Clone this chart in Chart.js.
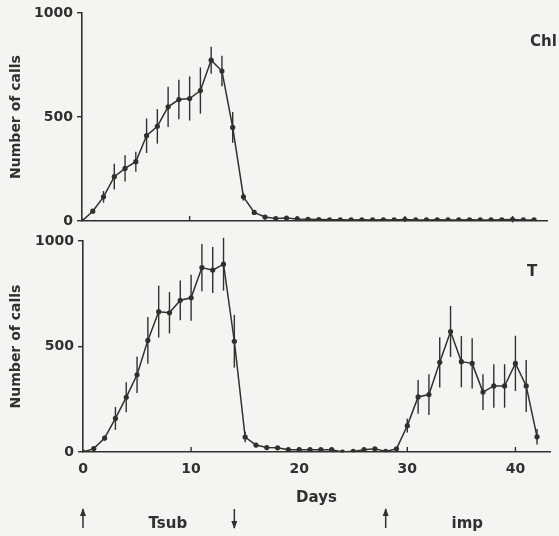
<!DOCTYPE html>
<html>
<head>
<meta charset="utf-8">
<script src="https://cdn.jsdelivr.net/npm/chart.js@4.4.1/dist/chart.umd.min.js"></script>
<style>
  html, body { margin: 0; padding: 0; background: #f4f4f1; }
  #wrap { position: relative; width: 559px; height: 536px; overflow: hidden; }
  canvas { position: absolute; left: 0; }
</style>
</head>
<body>
<div id="wrap">
  <canvas id="chl" width="559" height="236" style="top:0"></canvas>
  <canvas id="tsub" width="559" height="308" style="top:228px"></canvas>
</div>
<script>
// days of the experiment
const days = [0, 1, 2, 3, 4, 5, 6, 7, 8, 9, 10, 11, 12, 13, 14, 15, 16, 17, 18, 19, 20,
              21, 22, 23, 24, 25, 26, 27, 28, 29, 30, 31, 32, 33, 34, 35, 36, 37, 38, 39, 40, 41, 42];

// upper panel (Chl): mean number of calls and error bar half-lengths
const chlCalls = [0, 47, 116, 213, 253, 285, 410, 455, 549, 584, 589, 627, 773, 721, 450, 116, 41, 19, 12, 14, 10,
                  8, 7, 6, 6, 5, 6, 5, 6, 5, 7, 5, 5, 6, 5, 5, 6, 5, 5, 6, 7, 5, 5];
const chlErr = [0, 10, 28, 62, 63, 48, 83, 83, 97, 95, 106, 111, 65, 73, 74, 18, 10, 10, 8, 10, 6,
                0, 0, 0, 0, 0, 0, 0, 0, 0, 12, 0, 0, 0, 0, 0, 0, 0, 0, 0, 14, 0, 0];

// lower panel (T): mean number of calls and error bar half-lengths
const tCalls = [0, 16, 66, 159, 259, 366, 529, 665, 660, 719, 731, 874, 862, 890, 525, 71, 33, 21, 20, 11, 11,
                11, 11, 11, 0, 3, 11, 15, 3, 15, 125, 261, 272, 425, 571, 428, 420, 284, 313, 313, 420, 313, 72];
const tErr = [0, 6, 12, 54, 71, 86, 111, 123, 98, 94, 109, 112, 109, 125, 125, 25, 10, 8, 8, 6, 6,
              6, 6, 6, 5, 5, 6, 6, 5, 6, 33, 80, 97, 119, 121, 121, 119, 85, 103, 103, 131, 123, 37];

const xTicks = [0, 10, 20, 30, 40];
const yTicks = [0, 500, 1000];

// treatment markers under the x axis
const arrowDays = [0, 14, 28];
const arrowDirs = ['up', 'down', 'up'];
const phaseNames = ['Tsub', 'imp'];
const phaseDays = [7.85, 35.55];

const ink = '#303030';
const font = 'DejaVu Sans';

const errorBars = {
  id: 'errorBars',
  afterDatasetsDraw(chart, args, opts) {
    const { ctx, scales: { x, y } } = chart;
    const vals = opts.values;
    ctx.save();
    ctx.strokeStyle = ink;
    ctx.lineWidth = 1.4;
    opts.err.forEach((e, i) => {
      if (!e) return;
      const px = x.getPixelForValue(days[i]);
      ctx.beginPath();
      ctx.moveTo(px, y.getPixelForValue(vals[i] - e));
      ctx.lineTo(px, y.getPixelForValue(vals[i] + e));
      ctx.stroke();
    });
    // x axis ticks point up into the plot
    xTicks.forEach(v => {
      if (v === 0) return;
      const px = x.getPixelForValue(v);
      ctx.beginPath();
      ctx.moveTo(px, y.bottom);
      ctx.lineTo(px, y.bottom - 5);
      ctx.stroke();
    });
    // panel label
    ctx.fillStyle = ink;
    ctx.font = 'bold 15px ' + font;
    ctx.textBaseline = 'middle';
    ctx.textAlign = opts.align;
    ctx.fillText(opts.label, opts.lx, opts.ly);
    ctx.restore();
  }
};

const markers = {
  id: 'markers',
  afterDraw(chart) {
    const { ctx, scales: { x } } = chart;
    ctx.save();
    ctx.strokeStyle = ink;
    ctx.fillStyle = ink;
    ctx.lineWidth = 1.5;
    const top = 281, bot = 300;
    arrowDays.forEach((d, i) => {
      const px = x.getPixelForValue(d);
      ctx.beginPath();
      ctx.moveTo(px, top);
      ctx.lineTo(px, bot);
      ctx.stroke();
      const tip = arrowDirs[i] === 'up' ? top : bot;
      const s = arrowDirs[i] === 'up' ? 1 : -1;
      ctx.beginPath();
      ctx.moveTo(px, tip - s);
      ctx.lineTo(px - 3, tip + 7 * s);
      ctx.lineTo(px + 3, tip + 7 * s);
      ctx.closePath();
      ctx.fill();
    });
    ctx.font = 'bold 15px ' + font;
    ctx.textAlign = 'center';
    ctx.textBaseline = 'alphabetic';
    phaseNames.forEach((n, i) => ctx.fillText(n, x.getPixelForValue(phaseDays[i]), 300));
    ctx.restore();
  }
};

function makePanel(id, values, err, opts) {
  return new Chart(document.getElementById(id), {
    type: 'line',
    data: {
      datasets: [{
        data: days.map((d, i) => ({ x: d, y: values[i] })),
        borderColor: ink,
        backgroundColor: ink,
        borderWidth: 1.5,
        pointRadius: 2.6,
        pointBackgroundColor: ink,
        pointBorderWidth: 0,
        tension: 0
      }]
    },
    options: {
      responsive: false,
      animation: false,
      layout: { padding: { left: 0, right: opts.right, top: 13, bottom: opts.bottom } },
      plugins: {
        legend: { display: false },
        tooltip: { enabled: false },
        errorBars: { err: err, values: values, label: opts.label, lx: opts.lx, ly: opts.ly, align: opts.align }
      },
      scales: {
        x: {
          type: 'linear',
          min: 0,
          max: 43.2,
          afterBuildTicks: s => { s.ticks = xTicks.map(v => ({ value: v })); },
          afterFit: s => { s.height = opts.xh; },
          grid: { drawOnChartArea: false, drawTicks: false },
          border: { display: true, color: ink, width: 1.6 },
          ticks: {
            display: opts.xLabels,
            padding: 9,
            color: ink,
            callback: v => String(v),
            font: { family: font, size: 14, weight: 'bold' }
          },
          title: {
            display: opts.xLabels,
            text: 'Days',
            color: ink,
            padding: { top: 0, bottom: 1 },
            font: { family: font, size: 15, weight: 'bold' }
          }
        },
        y: {
          min: 0,
          max: 1000,
          afterBuildTicks: s => { s.ticks = yTicks.map(v => ({ value: v })); },
          afterFit: s => { s.width = opts.yw; },
          grid: { drawOnChartArea: false, drawTicks: true, tickLength: 5, color: ink, lineWidth: 1.4 },
          border: { display: true, color: ink, width: 1.6 },
          ticks: {
            padding: 4,
            color: ink,
            callback: v => String(v),
            font: { family: font, size: 14, weight: 'bold' }
          },
          title: {
            display: true,
            text: 'Number of calls',
            color: ink,
            padding: 8,
            font: { family: font, size: 14, weight: 'bold' }
          }
        }
      }
    },
    plugins: opts.extra ? [errorBars, markers] : [errorBars]
  });
}

makePanel('chl', chlCalls, chlErr, {
  right: 12, bottom: 0, xh: 15, yw: 82, xLabels: false,
  label: 'Chl', lx: 530, ly: 42, align: 'left', extra: false
});

makePanel('tsub', tCalls, tErr, {
  right: 9, bottom: 28, xh: 56, yw: 83, xLabels: true,
  label: 'T', lx: 532, ly: 44, align: 'center', extra: true
});
</script>
</body>
</html>
